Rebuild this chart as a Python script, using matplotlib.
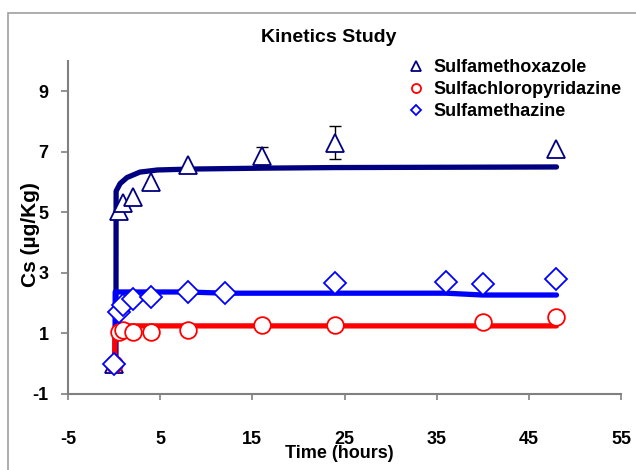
import matplotlib
matplotlib.use("Agg")
import matplotlib.pyplot as plt
from matplotlib.patches import Rectangle
import numpy as np

plt.rcParams['font.family'] = ['Liberation Sans', 'DejaVu Sans']
plt.rcParams['font.weight'] = 'bold'

smx_t = [0, 0.5, 1, 2, 4, 8, 16, 24, 48]
smx_v = [0, 5.05, 5.3, 5.5, 6.0, 6.55, 6.87, 7.3, 7.1]
smx_err = [0, 0, 0, 0, 0, 0, 0.3, 0.54, 0]

scp_t = [0, 0.5, 1, 2, 4, 8, 16, 24, 40, 48]
scp_v = [0, 1.05, 1.1, 1.05, 1.05, 1.1, 1.28, 1.28, 1.38, 1.55]

smz_t = [0, 0.5, 1, 2, 4, 8, 12, 24, 36, 40, 48]
smz_v = [0, 1.7, 1.95, 2.15, 2.2, 2.37, 2.33, 2.66, 2.7, 2.63, 2.8]

# fitted curves (traced)
smx_fit_t = [0.2, 0.22, 0.65, 1.4, 2.8, 4.7, 8.2, 16, 24, 48]
smx_fit_v = [-0.2, 5.7, 5.95, 6.15, 6.33, 6.4, 6.43, 6.46, 6.48, 6.5]
smz_fit_t = [0.1, 0.12, 8, 12, 36, 40, 48]
smz_fit_v = [0, 2.37, 2.37, 2.33, 2.33, 2.27, 2.27]
scp_fit_t = [0.05, 0.1, 0.4, 1, 48]
scp_fit_v = [-0.1, 1.0, 1.22, 1.25, 1.25]

xticks = [-5, 5, 15, 25, 35, 45, 55]
yticks = [-1, 1, 3, 5, 7, 9]

navy = '#000080'
red = '#FF0000'
blue = '#0000FF'
grey = '#808080'

W, H = 636, 470
fig = plt.figure(figsize=(W / 100, H / 100), dpi=100)
ax = fig.add_axes([68 / W, 1 - 394 / H, (621 - 68) / W, (394 - 61) / H])

# frame around the chart area
fig.patches.append(Rectangle((8 / W, -0.1), 1.1, 1 - 13 / H + 0.1, transform=fig.transFigure,
                             fill=False, edgecolor='#a0a0a0', linewidth=1.2))

ax.plot(smx_fit_t, smx_fit_v, color=navy, lw=3.8, solid_capstyle='round', zorder=2)
ax.plot(smz_fit_t, smz_fit_v, color=blue, lw=3.8, solid_capstyle='round', zorder=2)
ax.plot(scp_fit_t, scp_fit_v, color=red, lw=3.8, solid_capstyle='round', zorder=2)

# error bars only where they exist
et = [t for t, e in zip(smx_t, smx_err) if e > 0]
ev = [v for v, e in zip(smx_v, smx_err) if e > 0]
ee = [e for e in smx_err if e > 0]
ax.errorbar(et, ev, yerr=ee, fmt='none', ecolor='black', elinewidth=1.0, capsize=4, capthick=1.0, zorder=3)

mk = dict(linestyle='none', markerfacecolor='white', markeredgewidth=1.3, zorder=4)
ax.plot(smx_t, smx_v, marker='^', markersize=12.5, markeredgecolor=navy, **mk)
ax.plot(scp_t, scp_v, marker='o', markersize=12, markeredgecolor=red, **mk)
ax.plot(smz_t, smz_v, marker='D', markersize=11.5, markeredgecolor=blue, **mk)

# legend proxies
h1, = ax.plot([], [], marker='^', markersize=6.5, markeredgecolor=navy, label='Sulfamethoxazole', **mk)
h2, = ax.plot([], [], marker='o', markersize=6.5, markeredgecolor=red, label='Sulfachloropyridazine', **mk)
h3, = ax.plot([], [], marker='D', markersize=5, markeredgecolor=blue, label='Sulfamethazine', **mk)
leg = ax.legend(handles=[h1, h2, h3], loc='upper left', bbox_to_anchor=(407 / W, 1 - 59 / H),
                bbox_transform=fig.transFigure, frameon=False, fontsize=13, borderpad=0,
                handlelength=0.95, handletextpad=0.5, labelspacing=0.28, borderaxespad=0)
for t in leg.get_texts():
    t.set_fontweight('bold')

ax.set_xlim(-5, 55)
ax.set_ylim(-1, 10)
ax.set_xticks(xticks)
ax.set_yticks(yticks)
ax.set_xticklabels([str(x) for x in xticks], fontsize=13, fontweight='bold')
ax.set_yticklabels([str(y) for y in yticks], fontsize=13, fontweight='bold')
ax.tick_params(axis='x', direction='out', length=4, width=1.2, color=grey, pad=23)
ax.tick_params(axis='y', direction='out', length=5, width=1.2, color=grey, pad=9)

for s in ['top', 'right']:
    ax.spines[s].set_visible(False)
for s in ['left', 'bottom']:
    ax.spines[s].set_color(grey)
    ax.spines[s].set_linewidth(1.5)

fig.text(329 / W, 1 - 38 / H, 'Kinetics Study', ha='center', va='center', fontsize=14, fontweight='bold')
fig.text(339 / W, 1 - 453 / H, 'Time (hours)', ha='center', va='center', fontsize=13, fontweight='bold')
fig.text(30 / W, 1 - 235 / H, 'Cs (µg/Kg)', ha='center', va='center', rotation=90, fontsize=15, fontweight='bold')

fig.savefig('out.png', dpi=100)
